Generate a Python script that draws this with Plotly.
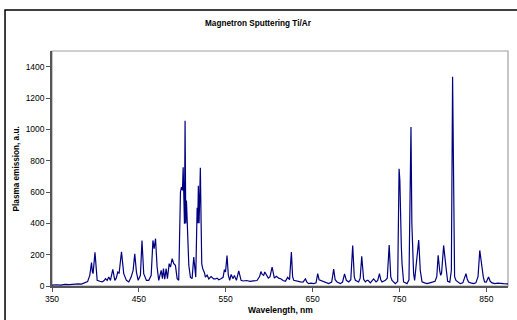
import plotly.graph_objects as go

wavelength = [
    350, 355, 360, 365, 370, 375, 380, 384, 388, 391, 393.5, 395.5, 396.5, 397.3, 399.5,
    401, 402, 405, 407.8, 410, 411.6, 413.5, 415.4, 417.3, 420, 422.3, 424, 425.7, 427.3,
    430, 432.6, 435.7, 438.4, 441.1, 443.4, 445.3, 447.2, 449.2, 451.8, 453.6, 455.6,
    458.7, 461.4, 464.2, 466.2, 467.6, 469.2, 471, 472.9, 475.7, 477.2, 478.3, 479.8,
    481.4, 482.9, 484.9, 486.4, 488.3, 490.2, 492.1, 494.1, 495.9, 497.1, 497.9, 499,
    500.2, 501, 501.7, 502.5, 503.2, 504, 504.8, 505.6, 506.3, 507.5, 509.4, 511.3,
    513.2, 514.3, 515.5, 517.1, 517.8, 518.5, 519.3, 520, 520.8, 521.7, 522.4, 523.5,
    525.5, 526.6, 528.6, 530.5, 533.2, 536.2, 538, 540, 542, 544, 547, 548.5, 549.8,
    551.5, 553, 554.6, 556.2, 558.5, 560, 562.3, 565, 567.7, 570, 574, 578, 582, 586,
    589, 590.5, 592, 593.7, 595, 596.8, 599, 601, 603.4, 606, 608.3, 611, 613.8, 616,
    618.7, 621.3, 623.5, 625.6, 627, 628.3, 632, 636, 639, 641.7, 643.5, 645.5, 648,
    651.3, 654, 655.9, 657.5, 659, 662.8, 665, 668.5, 672, 674.3, 676, 678.2, 682,
    684.5, 686.8, 688.9, 691.6, 694, 696.2, 698, 699.3, 703, 704.8, 706.6, 708.8,
    710.8, 712.7, 713.9, 716.5, 718.5, 720.3, 723.1, 725, 727, 728.5, 730, 733.8, 736,
    738.2, 740, 741.5, 745.3, 748, 749.6, 750.5, 752.2, 753, 754.8, 758.7, 761, 763.3,
    764.3, 765.2, 766.3, 767.5, 772.2, 774, 776, 779, 781.8, 785, 788, 791, 793, 794.6,
    796.3, 797.5, 798.5, 800.9, 803.5, 805.5, 808, 809.8, 811.2, 812.5, 813.5, 815.1,
    818, 820, 823, 826.6, 828, 829.6, 832, 835.4, 838, 840.5, 842.5, 844.8, 846.5, 848,
    850, 852.6, 854.5, 856.6, 860, 863, 866, 870, 873.8, 877,
]

emission = [
    5, 8, 6, 10, 9, 12, 14, 12, 20, 28, 68, 150, 90, 79, 215,
    80, 36, 30, 26, 35, 47, 36, 57, 36, 106, 36, 50, 89, 83,
    218, 79, 36, 26, 57, 100, 206, 89, 36, 68, 291, 79,
    36, 36, 68, 291, 238, 302, 121, 36, 100, 47, 111, 43,
    111, 47, 143, 121, 174, 143, 132, 47, 36, 503, 600, 631,
    610, 758, 630, 397, 1055, 399, 546, 376, 227, 132, 55, 47,
    185, 100, 57, 500, 400, 640, 400, 550, 755, 397, 143, 111,
    85, 57, 70, 45, 60, 45, 45, 50, 40, 45, 55, 104, 90,
    195, 70, 36, 74, 47, 68, 36, 96, 36, 32, 35, 30, 33, 35,
    60, 92, 74, 68, 89, 72, 50, 60, 121, 50, 62, 50, 45, 35,
    30, 55, 40, 217, 60, 36, 30, 26, 25, 45, 25, 15, 18,
    15, 20, 79, 40, 36, 26, 20, 15, 25, 108, 40, 26, 15,
    25, 77, 36, 26, 40, 259, 60, 36, 26, 50, 189, 43,
    26, 36, 36, 20, 30, 45, 26, 35, 79, 40, 26, 36, 50,
    262, 60, 36, 15, 30, 748, 673, 250, 143, 26, 15, 40, 1015,
    400, 227, 80, 36, 293, 100, 26, 20, 15, 20, 25, 30, 60, 196,
    100, 68, 80, 259, 125, 30, 25, 100, 1336, 200, 60, 36,
    20, 15, 20, 79, 45, 26, 20, 15, 20, 60, 227, 121, 60, 26,
    25, 57, 30, 20, 15, 18, 15, 15, 14, 12,
]

x_ticks = [350, 450, 550, 650, 750, 850]
y_ticks = [0, 200, 400, 600, 800, 1000, 1200, 1400]

FONT = "Liberation Sans, Arial, sans-serif"

fig = go.Figure()
fig.add_trace(go.Scatter(
    x=wavelength, y=emission, mode="lines",
    line=dict(color="#000080", width=1.2),
    hoverinfo="skip", showlegend=False,
))

fig.update_layout(
    width=517, height=320,
    margin=dict(l=52, r=9, t=51, b=34),
    paper_bgcolor="white", plot_bgcolor="white",
    font=dict(family=FONT, size=8.5, color="#000"),
    title=dict(text="<b>Magnetron Sputtering Ti/Ar</b>", x=0.499, y=0.928,
               xanchor="center", yanchor="middle",
               font=dict(family=FONT, size=8.2, color="#000")),
    xaxis=dict(range=[350, 875], tickvals=x_ticks, ticktext=[str(v) for v in x_ticks],
               showgrid=False, zeroline=False, showline=True, linecolor="#555",
               linewidth=1.5, ticks="outside", ticklen=4, tickcolor="#555",
               tickfont=dict(family=FONT, size=8.5, color="#000")),
    yaxis=dict(range=[0, 1500], tickvals=y_ticks, ticktext=[str(v) for v in y_ticks],
               showgrid=False, zeroline=False, showline=True, linecolor="#555",
               linewidth=1.5, ticks="outside", ticklen=4, tickcolor="#555",
               tickfont=dict(family=FONT, size=8.5, color="#000")),
    shapes=[
        dict(type="rect", xref="paper", yref="paper", x0=0, x1=1, y0=0, y1=1,
             line=dict(color="#a0a0a0", width=1.2), fillcolor="rgba(0,0,0,0)", layer="below"),
        dict(type="rect", xref="paper", yref="paper", x0=-0.103, x1=1.04, y0=-0.2, y1=1.1745,
             line=dict(color="#000", width=1.5), fillcolor="rgba(0,0,0,0)", layer="below"),
    ],
    annotations=[
        dict(text="<b>Plasma emission, a.u.</b>", xref="paper", yref="paper",
             x=-0.077, y=0.5, textangle=-90, showarrow=False,
             xanchor="center", yanchor="middle",
             font=dict(family=FONT, size=8.2, color="#000")),
        dict(text="<b>Wavelength, nm</b>", xref="paper", yref="paper",
             x=0.5, y=-0.1, showarrow=False, xanchor="center", yanchor="middle",
             font=dict(family=FONT, size=8.5, color="#000")),
    ],
)

fig.write_html("out.html", config={"displayModeBar": False},
               post_script="document.body.style.margin='0';")
